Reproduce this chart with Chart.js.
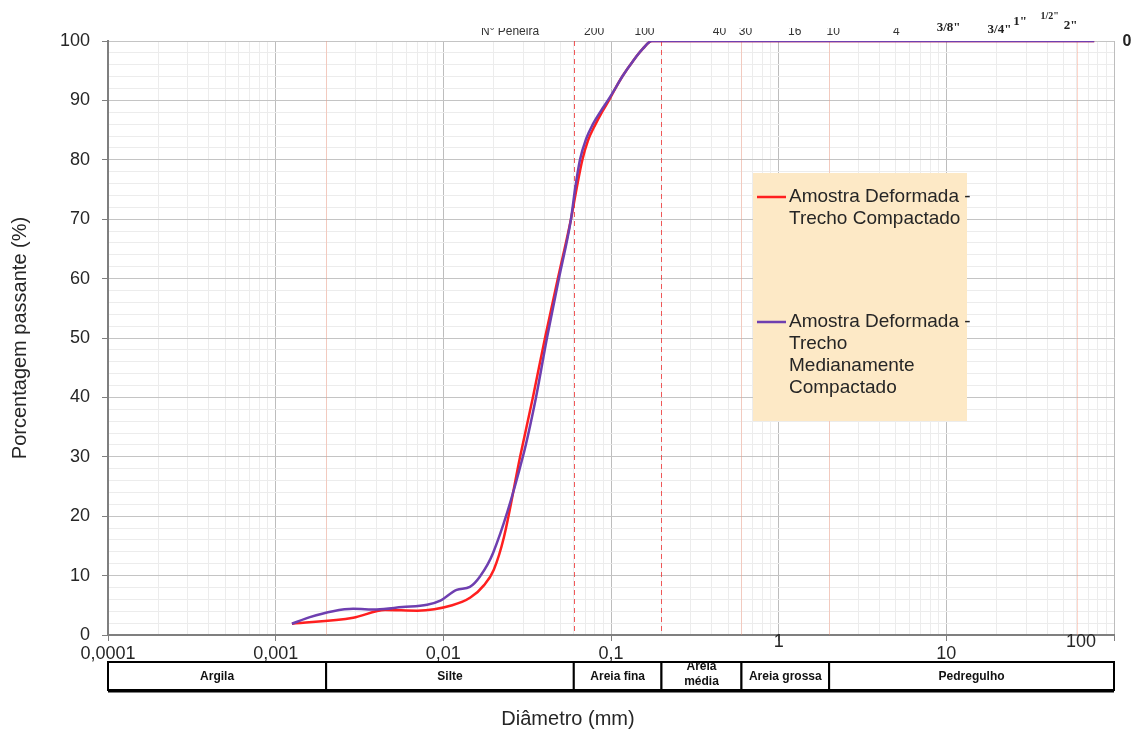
<!DOCTYPE html>
<html>
<head>
<meta charset="utf-8">
<title>Curva granulométrica</title>
<script src="https://cdn.jsdelivr.net/npm/chart.js@4/dist/chart.umd.min.js"></script>
<style>
  html, body { margin: 0; padding: 0; background: #fff; }
  #wrap { width: 1134px; height: 729px; position: relative; }
</style>
</head>
<body>
<div id="wrap"><canvas id="myChart" width="1134" height="729"></canvas></div>
<script>
// Amostra Deformada - Trecho Compactado (diâmetro em mm, % passante)
const diametroCompactado = [0.00125, 0.0029, 0.0045, 0.007, 0.0113, 0.0145, 0.0175, 0.02, 0.023, 0.0287, 0.0342, 0.0404, 0.0482, 0.0577, 0.0622, 0.0675, 0.0728, 0.0802, 0.0882, 0.0972, 0.107, 0.1178, 0.1351, 0.1549, 0.1754, 76.2];
const passanteCompactado = [1.9, 2.9, 4.2, 4.1, 5.0, 6.3, 8.4, 11.0, 16.5, 30, 40, 50, 60, 70, 75, 80, 83.2, 85.8, 88, 90, 92.2, 94.2, 96.6, 98.7, 100, 100];

// Amostra Deformada - Trecho Medianamente Compactado
const diametroMedianamente = [0.00125, 0.0016, 0.0022, 0.0029, 0.004, 0.0057, 0.008, 0.0096, 0.012, 0.0144, 0.0165, 0.0198, 0.0298, 0.0357, 0.0415, 0.0489, 0.0577, 0.061, 0.0653, 0.071, 0.078, 0.0869, 0.0958, 0.107, 0.1178, 0.1351, 0.1549, 0.1754, 76.2];
const passanteMedianamente = [1.9, 3.0, 4.0, 4.4, 4.3, 4.7, 5.1, 5.8, 7.6, 8.1, 9.8, 13.8, 30, 40, 50, 60, 70, 75, 80, 83.5, 86, 88.2, 90, 92.2, 94.2, 96.6, 98.7, 100, 100];

// Rótulos dos eixos
const rotulosDecadas = ['0,0001', '0,001', '0,01', '0,1', '1', '10', '100'];
const rotulosY = [0, 10, 20, 30, 40, 50, 60, 70, 80, 90, 100];

// Faixas granulométricas (limites em mm)
const faixas = ['Argila', 'Silte', 'Areia fina', 'Areia\nmédia', 'Areia grossa', 'Pedregulho'];
const limitesFaixas = [0.0001, 0.002, 0.06, 0.2, 0.6, 2, 100];
const limitesDestacados = [0.06, 0.2];
const limitesClaros = [0.002, 0.6, 2, 60];

// Peneiras (abertura em mm)
const peneiraRotulos = ['200', '100', '40', '30', '16', '10', '4'];
const peneiraAberturas = [0.075, 0.15, 0.42, 0.6, 1.18, 2.0, 4.76];
const polegadaRotulos = ['3/8"', '3/4"', '1"', '1/2"', '2"'];
const polegadaAberturas = [9.5, 19.1, 25.4, 38.1, 50.8];

// Legenda
const legendaTextos = [
    ['Amostra Deformada -', 'Trecho Compactado'],
    ['Amostra Deformada -', 'Trecho', 'Medianamente', 'Compactado']
];

const corVermelha = '#ff1f1f';
const corRoxa = '#6e3fb0';

// Ticks do eixo log: 1..9 x 10^n
const ticksX = [];
for (let e = -4; e <= 1; e++) {
    for (let m = 1; m <= 9; m++) {
        ticksX.push(Number((m * Math.pow(10, e)).toPrecision(6)));
    }
}
ticksX.push(100);

// rótulos que ficam deslocados para cima (1 e 100)
const rotulosAltos = [1, 100];

function ehDecada(v) {
    const l = Math.log10(v);
    return Math.abs(l - Math.round(l)) < 1e-9;
}

function pontos(xs, ys) {
    return xs.map((x, i) => ({ x: x, y: ys[i] }));
}

Chart.defaults.font.family = '"Liberation Sans", Arial, sans-serif';
Chart.defaults.color = '#262626';

// Linhas de separação das faixas
const linhasFaixas = {
    id: 'linhasFaixas',
    beforeDatasetsDraw(chart) {
        const { ctx, chartArea, scales } = chart;
        ctx.save();
        ctx.lineWidth = 1;
        ctx.strokeStyle = 'rgba(255, 140, 110, 0.35)';
        limitesClaros.forEach(d => {
            const x = Math.round(scales.x.getPixelForValue(d)) + 0.5;
            ctx.beginPath();
            ctx.moveTo(x, chartArea.top);
            ctx.lineTo(x, chartArea.bottom);
            ctx.stroke();
        });
        ctx.strokeStyle = 'rgba(240, 60, 60, 0.85)';
        ctx.setLineDash([5, 4]);
        limitesDestacados.forEach(d => {
            const x = Math.round(scales.x.getPixelForValue(d)) + 0.5;
            ctx.beginPath();
            ctx.moveTo(x, chartArea.top);
            ctx.lineTo(x, chartArea.bottom);
            ctx.stroke();
        });
        ctx.restore();
    }
};

// Legenda, tabela de faixas, título do eixo x e peneiras
const extras = {
    id: 'extras',
    afterDraw(chart) {
        const { ctx, scales } = chart;
        const sx = scales.x;
        ctx.save();

        // legenda
        ctx.fillStyle = '#fde9c6';
        ctx.fillRect(753, 173, 214, 248);
        const cores = [corVermelha, corRoxa];
        const topos = [197, 322];
        ctx.font = '19px "Liberation Sans", Arial, sans-serif';
        ctx.textBaseline = 'middle';
        ctx.textAlign = 'left';
        legendaTextos.forEach((linhas, i) => {
            ctx.strokeStyle = cores[i];
            ctx.lineWidth = 2.5;
            ctx.beginPath();
            ctx.moveTo(757, topos[i]);
            ctx.lineTo(786, topos[i]);
            ctx.stroke();
            ctx.fillStyle = '#262626';
            linhas.forEach((t, j) => ctx.fillText(t, 789, topos[i] + j * 22));
        });

        // rótulos 1 e 100 do eixo x
        ctx.textAlign = 'center';
        ctx.font = '18px "Liberation Sans", Arial, sans-serif';
        ctx.fillText(rotulosDecadas[4], sx.getPixelForValue(rotulosAltos[0]), 642);
        ctx.fillText(rotulosDecadas[6], sx.getPixelForValue(rotulosAltos[1]) - 33, 642);

        // tabela das faixas granulométricas
        const yTopo = 662, yBase = 690;
        ctx.lineWidth = 2;
        ctx.strokeStyle = '#000';
        ctx.font = 'bold 12px "Liberation Sans", Arial, sans-serif';
        faixas.forEach((nome, i) => {
            const x0 = sx.getPixelForValue(limitesFaixas[i]);
            const x1 = sx.getPixelForValue(limitesFaixas[i + 1]);
            ctx.fillStyle = '#fff';
            ctx.fillRect(x0, yTopo, x1 - x0, yBase - yTopo);
            ctx.strokeRect(x0, yTopo, x1 - x0, yBase - yTopo);
            ctx.fillStyle = '#111';
            const linhas = nome.split('\n');
            if (linhas.length === 1) {
                ctx.fillText(nome, (x0 + x1) / 2, (yTopo + yBase) / 2 + 1);
            } else {
                ctx.fillText(linhas[0], (x0 + x1) / 2, yTopo + 5);
                ctx.fillText(linhas[1], (x0 + x1) / 2, yTopo + 20);
            }
        });
        ctx.lineWidth = 3;
        ctx.beginPath();
        ctx.moveTo(sx.getPixelForValue(limitesFaixas[0]), yBase + 1);
        ctx.lineTo(sx.getPixelForValue(limitesFaixas[limitesFaixas.length - 1]), yBase + 1);
        ctx.stroke();

        // título do eixo x
        ctx.fillStyle = '#262626';
        ctx.font = '20px "Liberation Sans", Arial, sans-serif';
        ctx.fillText('Diâmetro (mm)', 568, 719);

        // peneiras (topo)
        ctx.save();
        ctx.beginPath();
        ctx.rect(0, 28, 1134, 12);
        ctx.clip();
        ctx.fillStyle = '#333';
        ctx.font = '12px "Liberation Sans", Arial, sans-serif';
        ctx.fillText('N° Peneira', sx.getPixelForValue(peneiraAberturas[0]) - 80, 32);
        peneiraRotulos.forEach((r, i) => {
            ctx.fillText(r, sx.getPixelForValue(peneiraAberturas[i]) + 4, 32);
        });
        ctx.restore();

        const alturas = [28, 30, 22, 16, 26];
        polegadaRotulos.forEach((r, i) => {
            ctx.fillStyle = '#222';
            ctx.font = (i === 3 ? 'bold 10px ' : 'bold 13px ') + '"Liberation Serif", "Times New Roman", serif';
            ctx.fillText(r, sx.getPixelForValue(polegadaAberturas[i]) + 6, alturas[i]);
        });

        ctx.font = 'bold 16px "Liberation Sans", Arial, sans-serif';
        ctx.fillStyle = '#222';
        ctx.fillText('0', 1127, 42);
        ctx.restore();
    }
};

const ctx = document.getElementById('myChart').getContext('2d');
const myChart = new Chart(ctx, {
    type: 'line',
    data: {
        datasets: [
            {
                label: 'Amostra Deformada - Trecho Compactado',
                data: pontos(diametroCompactado, passanteCompactado),
                borderColor: corVermelha,
                borderWidth: 2.5,
                cubicInterpolationMode: 'monotone',
                pointRadius: 0,
                fill: false,
                order: 2
            },
            {
                label: 'Amostra Deformada - Trecho Medianamente Compactado',
                data: pontos(diametroMedianamente, passanteMedianamente),
                borderColor: corRoxa,
                borderWidth: 2.5,
                cubicInterpolationMode: 'monotone',
                pointRadius: 0,
                fill: false,
                order: 1
            }
        ]
    },
    options: {
        responsive: false,
        devicePixelRatio: 1,
        animation: false,
        layout: { padding: { top: 41, right: 20, left: 0, bottom: 0 } },
        plugins: {
            legend: { display: false },
            tooltip: { enabled: false }
        },
        scales: {
            x: {
                type: 'logarithmic',
                min: 0.0001,
                max: 100,
                afterBuildTicks: scale => {
                    scale.ticks = ticksX.map(v => ({ value: v }));
                },
                afterFit: scale => { scale.height = 94; },
                ticks: {
                    autoSkip: false,
                    maxRotation: 0,
                    padding: 2,
                    font: { size: 18 },
                    color: '#262626',
                    callback: value => {
                        if (!ehDecada(value) || rotulosAltos.includes(value)) return '';
                        return rotulosDecadas[Math.round(Math.log10(value)) + 4];
                    }
                },
                grid: {
                    color: c => (c.tick && ehDecada(c.tick.value)) ? '#bdbdbd' : '#ececec',
                    tickColor: c => (c.tick && ehDecada(c.tick.value)) ? '#7f7f7f' : 'rgba(0,0,0,0)',
                    tickLength: 6
                },
                border: { color: '#7f7f7f', width: 2 }
            },
            y: {
                min: 0,
                max: 100,
                afterBuildTicks: scale => {
                    const t = [];
                    for (let v = 0; v <= 100; v += 2) t.push({ value: v });
                    scale.ticks = t;
                },
                afterFit: scale => { scale.width = 108; },
                ticks: {
                    autoSkip: false,
                    padding: 12,
                    font: { size: 18 },
                    color: '#262626',
                    callback: value => rotulosY.includes(value) ? String(value) : ''
                },
                grid: {
                    color: c => (c.tick && c.tick.value % 10 === 0) ? '#c4c4c4' : '#ececec',
                    tickColor: c => (c.tick && c.tick.value % 10 === 0) ? '#7f7f7f' : 'rgba(0,0,0,0)',
                    tickLength: 6
                },
                border: { color: '#7f7f7f', width: 2 },
                title: {
                    display: true,
                    text: 'Porcentagem passante (%)',
                    font: { size: 20 },
                    color: '#262626',
                    padding: { top: 8, bottom: 0 }
                }
            }
        }
    },
    plugins: [linhasFaixas, extras]
});
</script>
</body>
</html>
